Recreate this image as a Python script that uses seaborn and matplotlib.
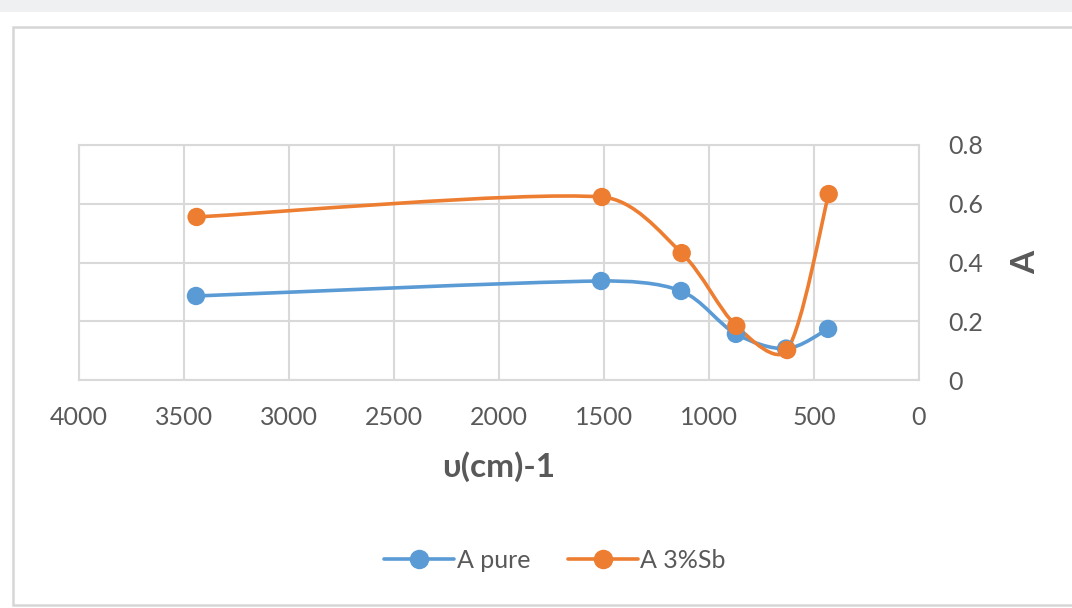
import numpy as np
import pandas as pd
import seaborn as sns
import matplotlib.pyplot as plt
from matplotlib.path import Path
from matplotlib.patches import PathPatch, Rectangle
from matplotlib.lines import Line2D

# wavenumber (cm-1) and absorbance
wave_pure = [3443, 1514, 1133, 872, 633, 433]
a_pure = [0.286, 0.337, 0.303, 0.157, 0.107, 0.174]
wave_sb = [3440, 1510, 1130, 870, 628, 430]
a_sb = [0.555, 0.623, 0.432, 0.184, 0.102, 0.633]
series = ["A pure", "A 3%Sb"]
colors = ["#5b9bd5", "#ed7d31"]
y_ticks = [0, 0.2, 0.4, 0.6, 0.8]
x_ticks = [4000, 3500, 3000, 2500, 2000, 1500, 1000, 500, 0]

df = pd.concat([
    pd.DataFrame({"wave": wave_pure, "A": a_pure, "series": series[0]}),
    pd.DataFrame({"wave": wave_sb, "A": a_sb, "series": series[1]}),
])

sns.set_theme(style="white")
plt.rcParams["font.family"] = ["Lato", "DejaVu Sans"]

fig = plt.figure(figsize=(10.72, 6.08), dpi=100)
# page chrome around the chart
fig.patches.append(Rectangle((0, 1 - 12 / 608), 1, 12 / 608, transform=fig.transFigure,
                             facecolor="#eff0f2", edgecolor="none", zorder=-5))
fig.patches.append(Rectangle((13 / 1072, 1 - 605 / 608), 1.1, (605 - 27) / 608,
                             transform=fig.transFigure, facecolor="white",
                             edgecolor="#d6d6d6", lw=1.8, zorder=-5))

ax = fig.add_axes([79 / 1072, 1 - 380 / 608, 840 / 1072, 235 / 608])
ax.set_facecolor("none")
ax.set_zorder(2)
ax.set_xlim(4000, 0)
ax.set_ylim(0, 0.8)


def smooth_path(xs, ys):
    # smoothed line like Excel: bezier segments, handles built in pixel space
    to_px = ax.transData
    p = to_px.transform(np.column_stack([xs, ys]).astype(float))
    n = len(p)
    verts = [p[0]]
    codes = [Path.MOVETO]
    for i in range(n - 1):
        p0 = p[max(i - 1, 0)]
        p1 = p[i]
        p2 = p[i + 1]
        p3 = p[min(i + 2, n - 1)]
        seg = np.linalg.norm(p2 - p1)
        d1 = p2 - p0
        d2 = p3 - p1
        l1 = min(np.linalg.norm(d1) / 6, seg * 0.33)
        l2 = min(np.linalg.norm(d2) / 6, seg * 0.33)
        c1 = p1 + d1 / np.linalg.norm(d1) * l1
        c2 = p2 - d2 / np.linalg.norm(d2) * l2
        verts += [c1, c2, p2]
        codes += [Path.CURVE4] * 3
    verts = to_px.inverted().transform(np.array(verts))
    return Path(verts, codes)


for (xs, ys), c in zip([(wave_pure, a_pure), (wave_sb, a_sb)], colors):
    ax.add_patch(PathPatch(smooth_path(xs, ys), facecolor="none", edgecolor=c,
                           lw=2.6, zorder=3, capstyle="round"))

sns.scatterplot(data=df, x="wave", y="A", hue="series", palette=colors, s=175,
                edgecolor="none", legend=False, ax=ax, zorder=4)

ax.set_xlim(4000, 0)
ax.set_ylim(0, 0.8)
ax.set_xticks(x_ticks)
ax.set_xticklabels([str(t) for t in x_ticks])
ax.set_yticks(y_ticks)
ax.set_yticklabels(["0", "0.2", "0.4", "0.6", "0.8"])
ax.yaxis.tick_right()
ax.yaxis.set_label_position("right")
ax.grid(True, color="#d9d9d9", lw=1.5)
ax.set_axisbelow(True)
for s in ax.spines.values():
    s.set_color("#d9d9d9")
    s.set_linewidth(1.5)
ax.tick_params(axis="both", length=0, labelsize=18, colors="#595959")
ax.tick_params(axis="x", pad=19)
ax.tick_params(axis="y", pad=21)
for lbl in ax.get_yticklabels():
    lbl.set_horizontalalignment("left")

ax.set_xlabel("υ(cm)-1", fontsize=24, fontweight="bold", color="#595959", labelpad=16)
ax.set_ylabel("A", fontsize=24, fontweight="bold", color="#595959", labelpad=20, rotation=90)

handles = [Line2D([0], [0], color=c, lw=2.6, marker="o", markersize=13) for c in colors]
fig.legend(handles, series, loc="center", bbox_to_anchor=(555 / 1072, 1 - 560 / 608),
           ncol=2, frameon=False, fontsize=18, labelcolor="#595959",
           handlelength=2.8, handletextpad=0.1, columnspacing=1.5)

plt.savefig("out.png", dpi=100)
